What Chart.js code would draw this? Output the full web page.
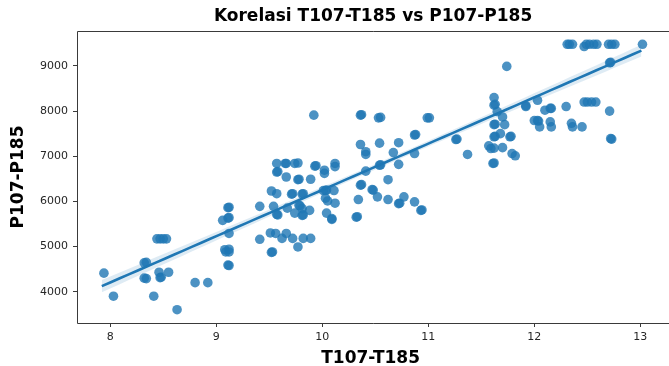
<!DOCTYPE html>
<html>
<head>
<meta charset="utf-8">
<script src="https://cdn.jsdelivr.net/npm/chart.js@4/dist/chart.umd.min.js"></script>
<style>
  html, body { margin: 0; padding: 0; background: #fff; }
  #wrap { width: 669px; height: 366px; }
</style>
</head>
<body>
<div id="wrap"><canvas id="c" width="669" height="366"></canvas></div>
<script>
// T107-T185 values
const t107 = [
  7.94, 8.03, 8.32, 8.34, 8.32, 8.34, 8.41, 8.44, 8.47, 8.50, 8.53, 8.46, 8.47, 8.48, 8.55, 8.63,
  8.80, 8.92, 9.06, 9.11, 9.12, 9.11, 9.12, 9.12, 9.08, 9.12, 9.09, 9.12, 9.11, 9.12, 9.41, 9.41,
  9.52, 9.51, 9.52, 9.53, 9.54, 9.56, 9.57, 9.57, 9.58, 9.57, 9.57, 9.58, 9.62, 9.65, 9.66, 9.66,
  9.66, 9.67, 9.71, 9.72, 9.72, 9.74, 9.74, 9.77, 9.77, 9.78, 9.77, 9.78, 9.79, 9.81, 9.82, 9.81,
  9.81, 9.82, 9.82, 9.88, 9.89, 9.89, 9.92, 9.93, 9.94, 10.02, 10.02, 10.01, 10.03, 10.04, 10.03, 10.04,
  10.05, 10.09, 10.09, 10.11, 10.12, 10.12, 10.12, 10.32, 10.33, 10.34, 10.36, 10.37, 10.36, 10.36, 10.37, 10.41,
  10.41, 10.41, 10.47, 10.48,
  10.52, 10.53, 10.55, 10.54, 10.54, 10.55, 10.62, 10.62, 10.67, 10.72, 10.72, 10.72, 10.73, 10.77, 10.87, 10.88,
  10.87, 10.87, 10.93, 10.94, 10.99, 11.01, 11.26, 11.27, 11.37,
  11.57, 11.59, 11.61, 11.62, 11.62, 11.62, 11.63, 11.62, 11.63, 11.62, 11.63, 11.62, 11.65, 11.68, 11.70, 11.70,
  11.72, 11.74, 11.77, 11.78, 11.79, 11.82, 11.92, 11.92, 12.03, 12.00, 12.03, 12.04, 12.05, 12.10, 12.15, 12.16,
  12.15, 12.16, 12.30, 12.31, 12.33, 12.36, 12.35, 12.36, 12.45, 12.47, 12.49, 12.52, 12.56, 12.59, 12.47, 12.50,
  12.54, 12.58, 12.70, 12.73, 12.76, 12.71, 12.72, 12.71, 12.72, 12.73, 13.02
];

// P107-P185 values (same order)
const p107 = [
  4410, 3900, 4640, 4650, 4300, 4290, 3900, 5170, 5170, 5170, 5170, 4430, 4310, 4320, 4430, 3600,
  4200, 4200, 5580, 5860, 5870, 5630, 5640, 5290, 4930, 4940, 4880, 4880, 4590, 4580, 5890, 5160,
  6230, 5300, 4870, 4880, 5890, 5290, 6170, 5710, 5700, 6840, 6650, 6660, 5180, 6840, 6840, 6540,
  5290, 5850, 6160, 6170, 5180, 6840, 5740, 4990, 6480, 6490, 6850, 5910, 5900, 6160, 6170, 5840,
  5690, 5700, 5180, 5800, 5180, 6490, 7910, 6780, 6790, 6690, 6620, 6240, 6240, 6250, 6070, 5740,
  6010, 5600, 5620, 6240, 6840, 6770, 5960, 5650, 5660, 6040, 7910, 7920, 7260, 6360, 6370, 7100,
  7040, 6670, 6260, 6250,
  6100, 7850, 7860, 7290, 6800, 6810, 6480, 6040, 7080, 7300, 6820, 5950, 5960, 6100, 7470, 7480,
  7060, 5990, 5800, 5810, 7850, 7850, 7370, 7380, 7040,
  7230, 7170, 6840, 6850, 7180, 7430, 7440, 7700, 7710, 8130, 8150, 8300, 7990, 7500, 7870, 7190,
  7700, 8990, 7430, 7440, 7060, 7010, 8100, 8120, 8240, 7790, 7790, 7780, 7650, 8020, 8060, 8060,
  7760, 7650, 8100, 9480, 9480, 9480, 7730, 7650, 7650, 9430, 9480, 9480, 9480, 9480, 8200, 8200,
  8200, 8200, 9480, 9480, 9480, 9070, 9080, 8000, 7390, 7380, 9480
];

// Regression line end points (x, fitted y)
const fitX = [7.92, 13.01];
const fitY = [4122, 9339];

// Tick labels
const xTicks = [8, 9, 10, 11, 12, 13];
const yTicks = [4000, 5000, 6000, 7000, 8000, 9000];

const BLUE = '#1f77b4';
const FONT = "'DejaVu Sans', Verdana, sans-serif";
const BAND_Z = 1.3;

// Spread statistics used for the confidence band around the fitted line
function spread(xs, ys) {
  const n = xs.length;
  const mx = xs.reduce((a, b) => a + b, 0) / n;
  const my = ys.reduce((a, b) => a + b, 0) / n;
  let sxx = 0, sxy = 0;
  for (let i = 0; i < n; i++) {
    sxx += (xs[i] - mx) ** 2;
    sxy += (xs[i] - mx) * (ys[i] - my);
  }
  const b = sxy / sxx, a = my - b * mx;
  let sse = 0;
  for (let i = 0; i < n; i++) sse += (ys[i] - (a + b * xs[i])) ** 2;
  return { n, mx, sxx, s: Math.sqrt(sse / (n - 2)) };
}

const st = spread(t107, p107);
const slope = (fitY[1] - fitY[0]) / (fitX[1] - fitX[0]);
const steps = 60;
const lineData = [], upper = [], lower = [];
for (let i = 0; i <= steps; i++) {
  const x = fitX[0] + (fitX[1] - fitX[0]) * i / steps;
  const yhat = fitY[0] + slope * (x - fitX[0]);
  const se = st.s * Math.sqrt(1 / st.n + (x - st.mx) ** 2 / st.sxx);
  lineData.push({ x, y: yhat });
  upper.push({ x, y: yhat + BAND_Z * se });
  lower.push({ x, y: yhat - BAND_Z * se });
}

const points = t107.map((x, i) => ({ x, y: p107[i] }));

// Axes frame (top, left, bottom spines) and the title centred over the axes
const framePlugin = {
  id: 'frame',
  afterDraw(chart) {
    const { ctx, chartArea: a } = chart;
    ctx.save();
    ctx.strokeStyle = '#3a3a3a';
    ctx.lineWidth = 1;
    ctx.beginPath();
    ctx.moveTo(a.right + 6, Math.round(a.top) + 0.5);
    ctx.lineTo(Math.round(a.left) + 0.5, Math.round(a.top) + 0.5);
    ctx.lineTo(Math.round(a.left) + 0.5, Math.round(a.bottom) + 0.5);
    ctx.lineTo(a.right + 6, Math.round(a.bottom) + 0.5);
    ctx.stroke();

    ctx.fillStyle = '#000';
    ctx.font = `bold 17px ${FONT}`;
    ctx.textAlign = 'center';
    ctx.textBaseline = 'middle';
    ctx.fillText('Korelasi T107-T185 vs P107-P185', (a.left + a.right + 5) / 2, 17);
    ctx.restore();
  }
};

new Chart(document.getElementById('c'), {
  data: {
    datasets: [
      {
        type: 'line', label: 'ci_low', data: lower,
        borderWidth: 0, pointRadius: 0, fill: false, order: 3
      },
      {
        type: 'line', label: 'ci_high', data: upper,
        borderWidth: 0, pointRadius: 0, fill: '-1',
        backgroundColor: 'rgba(31,119,180,0.15)', order: 3
      },
      {
        type: 'scatter', label: 'data', data: points,
        backgroundColor: 'rgba(31,119,180,0.8)', borderWidth: 0,
        pointRadius: 4.8, pointHoverRadius: 4.8, order: 2
      },
      {
        type: 'line', label: 'fit', data: lineData,
        borderColor: BLUE, borderWidth: 2.6, pointRadius: 0, fill: false, order: 1
      }
    ]
  },
  options: {
    responsive: false,
    animation: false,
    events: [],
    layout: { padding: { left: 0, right: 0, top: 31, bottom: 0 } },
    plugins: {
      legend: { display: false },
      tooltip: { enabled: false },
      title: { display: false }
    },
    scales: {
      x: {
        type: 'linear',
        min: 7.686, max: 13.225,
        afterFit(s) { s.height = 43; },
        afterBuildTicks(s) { s.ticks = xTicks.map(v => ({ value: v })); },
        grid: { drawOnChartArea: false, drawTicks: true, tickLength: 4, color: '#3a3a3a' },
        border: { display: false },
        ticks: { color: '#262626', font: { family: FONT, size: 11 }, padding: 4, maxRotation: 0,
                 callback: v => String(v) },
        title: {
          display: true, text: 'T107-T185', color: '#000',
          font: { family: FONT, size: 17, weight: 'bold', lineHeight: 1.2 },
          padding: { top: 0, bottom: -3 }
        }
      },
      y: {
        type: 'linear',
        min: 3306, max: 9774,
        afterFit(s) { s.width = 77; },
        afterBuildTicks(s) { s.ticks = yTicks.map(v => ({ value: v })); },
        grid: { drawOnChartArea: false, drawTicks: true, tickLength: 4, color: '#3a3a3a' },
        border: { display: false },
        ticks: { color: '#262626', font: { family: FONT, size: 11 }, padding: 5,
                 callback: v => String(v) },
        title: {
          display: true, text: 'P107-P185', color: '#000',
          font: { family: FONT, size: 17, weight: 'bold', lineHeight: 1.2 },
          padding: { top: 8, bottom: 0 }
        }
      }
    }
  },
  plugins: [framePlugin]
});
</script>
</body>
</html>
